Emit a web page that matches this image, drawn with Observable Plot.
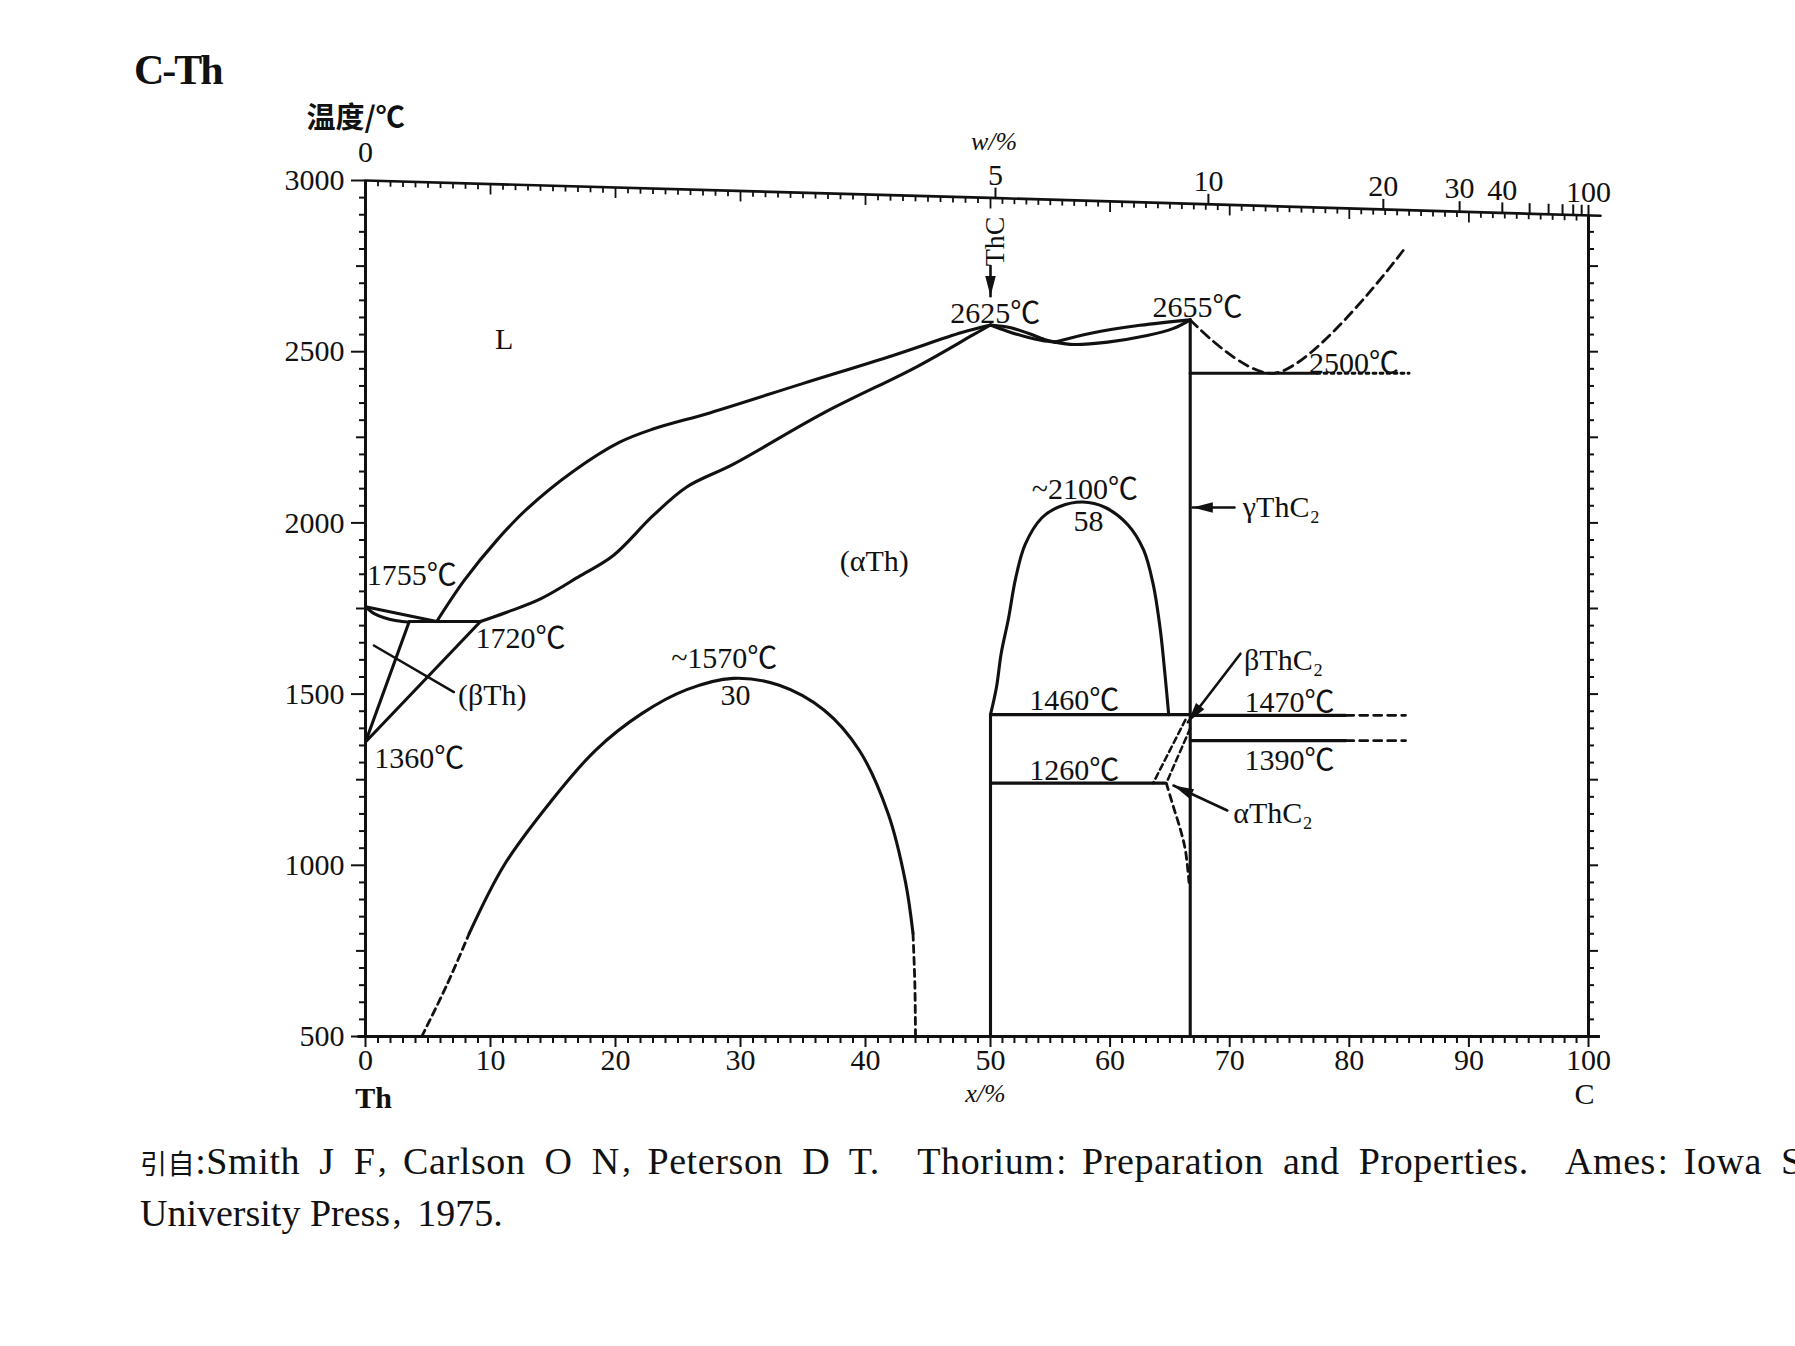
<!DOCTYPE html>
<html><head><meta charset="utf-8">
<script src="https://cdn.jsdelivr.net/npm/d3@7"></script>
<script src="https://cdn.jsdelivr.net/npm/@observablehq/plot@0.6"></script>
<style>
html,body{margin:0;padding:0;background:#fff;width:1795px;height:1346px;overflow:hidden;}
#wrap{position:relative;width:1795px;height:1346px;}
#chart{position:absolute;left:0;top:0;}
#title{position:absolute;left:134px;top:46px;font:bold 42px 'Liberation Serif',serif;letter-spacing:-2px;color:#111;line-height:normal;}
#cite{position:absolute;left:140px;top:1136px;font:38px 'Liberation Serif','Noto Sans CJK SC',serif;line-height:51px;white-space:nowrap;color:#111;}
#cite .l1{word-spacing:9px;letter-spacing:0.6px;}
#cite .cjk{font-family:'Noto Sans CJK SC',sans-serif;font-size:27px;}
</style></head><body>
<div id="wrap">
<div id="chart"></div>
<div id="title">C-Th</div>
<div id="cite"><span class="l1"><span class="cjk">引自</span>:Smith J F<span class="cjk">，</span>Carlson O N<span class="cjk">，</span>Peterson D T.&nbsp; Thorium<span class="cjk">：</span>Preparation and Properties.&nbsp; Ames<span class="cjk">：</span>Iowa State</span><br>University Press<span class="cjk">，</span>1975.</div>
</div>
<script>
// ---------- axis tick labels ----------
const xTickLabels = [0,10,20,30,40,50,60,70,80,90,100];      // x / at.%
const yTickLabels = [500,1000,1500,2000,2500,3000];           // temperature / °C
const wTickLabels = [0,5,10,20,30,40,100];                     // w / wt.%
const wTicks = [5,10,20,30,40,50,60,70,80,90,100];

// ---------- phase boundaries: [x at.% C, T °C] ----------
const betaLiquidus   = [[0,1755],[5.7,1712]];
const betaSolidus    = [[0,1755],[0.7,1735],[1.5,1723],[2.5,1714],[3.5,1710]];
const eutectic1720   = [[3.5,1712],[9.2,1712]];
const betaAlphaLeft  = [[3.5,1712],[0,1360]];
const betaAlphaRight = [[9.2,1712],[0,1360]];
const liquidus       = [[5.7,1712],[7.9,1832],[10.5,1949],[12.9,2040],[16.6,2150],[20.3,2235],[23.0,2274],[27.6,2322],[34.9,2406],[42.2,2489],[47.7,2556],[50,2578]];
const alphaSolidus   = [[9.2,1712],[11.3,1739],[14.0,1778],[17.2,1846],[19.8,1904],[23.0,2021],[25.7,2105],[29.4,2171],[36.7,2322],[44.1,2456],[48.6,2549],[50,2578]];
const thcLensUpper   = [[50,2578],[51.7,2570],[53.2,2553],[54.5,2536],[55.4,2528]];
const thcLensLower   = [[50,2578],[51.4,2560],[53.1,2542],[54.3,2533],[55.4,2528]];
const thc2LensUpper  = [[55.4,2528],[58.4,2554],[62.5,2577],[66.7,2593]];
const thc2LensLower  = [[55.4,2528],[57.0,2521],[59.8,2528],[63.1,2547],[65.3,2568],[66.7,2593]];
const thc2Line       = [[66.7,500],[66.7,2593]];
const cLiquidus      = [[66.7,2593],[73.7,2437],[84.6,2800]];
const eutectic2500   = [[66.7,2437],[77.3,2437]];
const eutectic2500Ext= [[77.3,2437],[85,2437]];
const thcLine        = [[50,500],[50,1440]];
const gap2100        = [[50,1440],[50.5,1520],[50.9,1620],[51.5,1720],[52.1,1838],[52.9,1937],[54.3,2015],[55.8,2048],[57.7,2061],[59.6,2045],[61.5,1994],[62.8,1921],[63.6,1821],[64.2,1687],[64.6,1553],[64.9,1440]];
const line1460       = [[50,1440],[66.7,1440]];
const line1470       = [[66.7,1438],[79.7,1438]];
const line1470Ext    = [[79.7,1438],[84.7,1438]];
const line1390       = [[66.7,1364],[79.7,1364]];
const line1390Ext    = [[79.7,1364],[84.7,1364]];
const line1260       = [[50,1240],[64.6,1240]];
const betaThC2Left   = [[66.3,1425],[63.6,1240]];
const betaThC2Right  = [[66.7,1400],[64.7,1240]];
const alphaThC2Bound = [[64.7,1240],[65.3,1170],[65.9,1102],[66.3,1043],[66.6,950]];
const gap1570        = [[8.3,801],[11.1,1001],[14.8,1185],[18.4,1336],[22.1,1443],[25.7,1513],[29.4,1546],[33.1,1526],[36.7,1453],[39.5,1336],[41.8,1152],[43.2,951],[43.8,801]];
const gap1570LeftExt = [[4.5,500],[6.5,650],[8.3,801]];
const gap1570RightExt= [[43.8,801],[43.95,650],[44.0,500]];
const betaThPointer  = [[0.67,1642],[7.07,1506]];

// ---------- arrows (from -> to) ----------
const arrows = [
  {from:[50,2750],  to:[50,2662]},    // ThC
  {from:[70.4,2045],to:[66.9,2045]},  // γThC2
  {from:[70.9,1618],to:[66.5,1418]},  // βThC2
  {from:[69.8,1160],to:[65.3,1233]}   // αThC2
];

// ---------- annotations ----------
const labels = [
  {text:"L",        x:11.1, t:2536, anchor:"middle"},
  {text:"(αTh)",    x:40.7, t:1887, anchor:"middle"},
  {text:"1755℃",    x:0.1,  t:1847, anchor:"start"},
  {text:"1720℃",    x:8.8,  t:1664, anchor:"start"},
  {text:"1360℃",    x:0.7,  t:1313, anchor:"start"},
  {text:"(βTh)",    x:7.4,  t:1496, anchor:"start"},
  {text:"~1570℃",   x:28.7, t:1603, anchor:"middle"},
  {text:"30",       x:29.6, t:1496, anchor:"middle"},
  {text:"~2100℃",   x:57.9, t:2098, anchor:"middle"},
  {text:"58",       x:58.2, t:2004, anchor:"middle"},
  {text:"2625℃",    x:50.4, t:2611, anchor:"middle"},
  {text:"2655℃",    x:67.3, t:2630, anchor:"middle"},
  {text:"2500℃",    x:80.4, t:2466, anchor:"middle"},
  {text:"1460℃",    x:57.0, t:1481, anchor:"middle"},
  {text:"1470℃",    x:75.0, t:1477, anchor:"middle"},
  {text:"1390℃",    x:75.0, t:1306, anchor:"middle"},
  {text:"1260℃",    x:57.0, t:1277, anchor:"middle"},
  {text:"βThC₂",    x:71.2, t:1598, anchor:"start"},
  {text:"αThC₂",    x:70.3, t:1151, anchor:"start"},
  {text:"γThC₂",    x:71.1, t:2045, anchor:"start"}
];

// ---------- scales ----------
const X_DOMAIN = [0,50,100], X_RANGE = [365,990,1588];
const Y_DOMAIN = [500,3000], Y_RANGE = [1036,180];
const sx = d3.scaleLinear().domain(X_DOMAIN).range(X_RANGE);
const sy = d3.scaleLinear().domain(Y_DOMAIN).range(Y_RANGE);
const pxT = (Y_DOMAIN[1]-Y_DOMAIN[0])/(Y_RANGE[0]-Y_RANGE[1]);   // °C per pixel
const topT = x => 3000 - 1.02*x;                                  // slanted w% axis
const wToX = w => w === 100 ? 100 : 100*(w/12.011)/((w/12.011)+((100-w)/232.04));

const F = "'Liberation Serif','Noto Sans CJK SC',serif";
const INK = "#111";
const SW = 3.1;
const pts = a => a.map(([x,t]) => ({x, t}));
const solid = (a, w=SW) => Plot.line(pts(a), {x:"x", y:"t", stroke:INK, strokeWidth:w, curve:"catmull-rom"});
const dashed = (a, dash="9,6", w=2.8) => Plot.line(pts(a), {x:"x", y:"t", stroke:INK, strokeWidth:w, strokeDasharray:dash, curve:"catmull-rom"});

const headSym = {draw(ctx, size){ const L = Math.sqrt(size)*1.9, w = L*0.26; ctx.moveTo(0,0); ctx.lineTo(-w,L); ctx.lineTo(w,L); ctx.closePath(); }};
const arrowHeads = arrows.map(a => {
  const dx = sx(a.to[0]) - sx(a.from[0]), dy = sy(a.to[1]) - sy(a.from[1]);
  return {x:a.to[0], t:a.to[1], a: Math.atan2(dx, -dy)*180/Math.PI};
});

const bottomTicks = d3.range(0,101).map(x => ({x, len: x%10===0 ? 11 : 7}));
const topTicks    = d3.range(0,101).map(x => ({x, len: x%10===0 ? 11 : 6}));
const leftTicks   = d3.range(500,3001,50).map(t => ({t, len: t%500===0 ? 14 : (t%250===0 ? 9 : 6)}));
const rightTicks  = d3.range(500,2851,50).map(t => ({t, len: t%250===0 ? 10 : 6}));
const txt = (extra) => Object.assign({fontSize:30, fontFamily:F, fill:INK}, extra);

const marks = [
  // frame
  Plot.ruleX([0],   {x:d=>d, y1:()=>500, y2:()=>3000, stroke:INK, strokeWidth:3}),
  Plot.ruleY([500], {y:d=>d, x1:()=>-0.6, x2:()=>101, stroke:INK, strokeWidth:3}),
  Plot.ruleX([100], {x:d=>d, y1:()=>500, y2:()=>topT(100), stroke:INK, strokeWidth:3}),
  Plot.line(pts([[0,3000],[50,topT(50)],[101,topT(101)]]), {x:"x", y:"t", stroke:INK, strokeWidth:2.7}),
  // ticks
  Plot.ruleX(bottomTicks, {x:"x", y1:()=>500, y2:d=>500 - d.len*pxT, stroke:INK, strokeWidth:2}),
  Plot.ruleX(topTicks, {x:"x", y1:d=>topT(d.x), y2:d=>topT(d.x) - d.len*pxT, stroke:INK, strokeWidth:1.8}),
  Plot.ruleX(wTicks.map(w => ({x:wToX(w)})), {x:"x", y1:d=>topT(d.x), y2:d=>topT(d.x) + 10*pxT, stroke:INK, strokeWidth:2}),
  Plot.ruleY(leftTicks, {y:"t", x1:()=>0, x2:d=> -d.len/12.5, stroke:INK, strokeWidth:2}),
  Plot.ruleY(rightTicks, {y:"t", x1:()=>100, x2:d=> 100 + d.len/11.96, stroke:INK, strokeWidth:2}),
  // tick labels
  Plot.text(xTickLabels, txt({x:d=>d, y:()=>500, text:d=>String(d), dy:24})),
  Plot.text(yTickLabels, txt({x:()=>0, y:d=>d, text:d=>String(d), dx:-21, textAnchor:"end"})),
  Plot.text(wTickLabels.filter(d => d === 0), txt({x:d=>wToX(d), y:d=>topT(wToX(d)), text:d=>String(d), dy:-28})),
  Plot.text(wTickLabels.filter(d => d !== 0), txt({x:d=>wToX(d), y:d=>topT(wToX(d)), text:d=>String(d), dy:-23})),
  Plot.text(["Th"], txt({x:()=>0, y:()=>500, text:d=>d, dy:62, dx:8, fontWeight:"bold"})),
  Plot.text(["C"],  txt({x:()=>100, y:()=>500, text:d=>d, dy:58, dx:-4})),
  Plot.text(["x/%"], txt({x:()=>50, y:()=>500, text:d=>d, dy:57, dx:-5, fontSize:26, fontStyle:"italic"})),
  Plot.text(["w/%"], txt({x:()=>50.3, y:()=>3114, text:d=>d, fontSize:26, fontStyle:"italic"})),
  Plot.text(["温度/℃"], txt({x:()=>-4.72, y:()=>3181, text:d=>d, textAnchor:"start", fontSize:29, fontWeight:"bold", fontFamily:"'Noto Sans CJK SC',sans-serif"})),
  // phase boundaries (solid)
  ...[betaLiquidus, betaSolidus, eutectic1720, betaAlphaLeft, betaAlphaRight, liquidus, alphaSolidus,
      thcLensUpper, thcLensLower, thc2LensUpper, thc2LensLower, thc2Line, eutectic2500, thcLine, gap2100,
      line1460, line1470, line1390, line1260, gap1570].map(a => solid(a)),
  solid(betaThPointer, 2.5),
  // dashed / dotted
  dashed(cLiquidus, "10,6"),
  dashed(eutectic2500Ext, "3,4"),
  dashed(line1470Ext, "8,6"),
  dashed(line1390Ext, "8,6"),
  dashed(betaThC2Left, "6,4", 2.5),
  dashed(betaThC2Right, "6,4", 2.5),
  dashed(alphaThC2Bound, "7,5"),
  dashed(gap1570LeftExt, "7,5"),
  dashed(gap1570RightExt, "7,5"),
  // arrows
  ...arrows.map(a => Plot.line(pts([a.from, a.to]), {x:"x", y:"t", stroke:INK, strokeWidth:2.6})),
  Plot.dot(arrowHeads, {x:"x", y:"t", rotate:"a", symbol:headSym, r:6, fill:INK, stroke:"none"}),
  Plot.text(["ThC"], txt({x:()=>50.4, y:()=>2822, text:d=>d, rotate:-90, fontSize:28})),
  // annotations
  Plot.text(labels.filter(d => d.anchor === "middle"), txt({x:"x", y:"t", text:"text", textAnchor:"middle"})),
  Plot.text(labels.filter(d => d.anchor === "start"),  txt({x:"x", y:"t", text:"text", textAnchor:"start"}))
];

const chart = Plot.plot({
  width:1795, height:1130,
  marginTop:0, marginRight:0, marginBottom:0, marginLeft:0,
  x:{type:"linear", domain:X_DOMAIN, range:X_RANGE, axis:null},
  y:{type:"linear", domain:Y_DOMAIN, range:Y_RANGE, axis:null},
  style:{background:"#fff", color:INK, fontFamily:F, overflow:"visible"},
  marks
});
document.getElementById("chart").appendChild(chart);
</script>
</body></html>
